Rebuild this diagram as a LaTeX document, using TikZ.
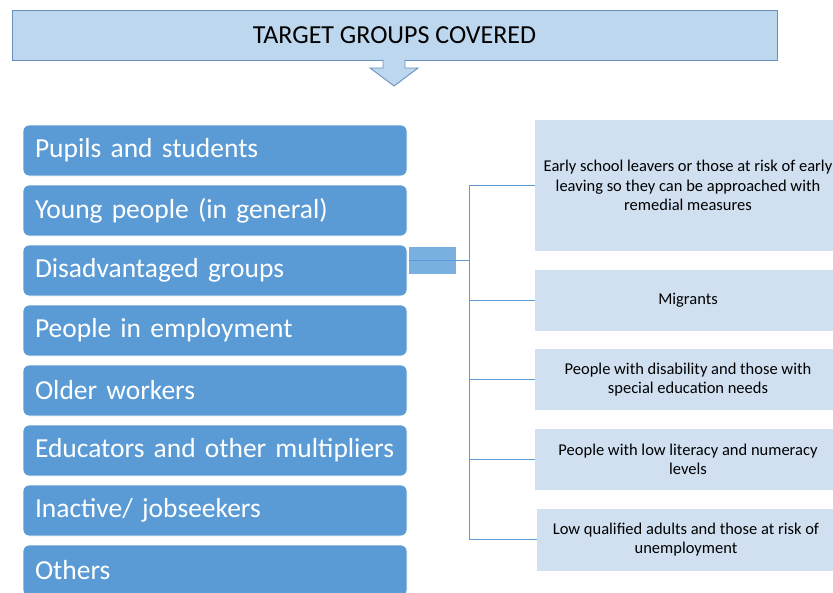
\documentclass[tikz,border=0pt]{standalone}
\usepackage{fontspec}
\setmainfont{Carlito}
\usepackage{tikz}
\usetikzlibrary{positioning}

\definecolor{titlefill}{HTML}{BDD7EE}
\definecolor{titleline}{HTML}{6A8FBF}
\definecolor{groupblue}{HTML}{5B9BD5}
\definecolor{subfill}{HTML}{D0E0F1}
\definecolor{tabblue}{HTML}{7AB0E0}

\tikzset{
	heading/.style={draw=titleline, line width=0.9pt, fill=titlefill, minimum width=765pt, minimum height=50pt, inner sep=0pt, font=\fontsize{26}{30}\selectfont},
	group/.style={draw=white, line width=0.8pt, fill=groupblue, rounded corners=6pt, text=white, minimum width=384pt, minimum height=51pt, text width=360pt, inner xsep=12pt, inner ysep=0pt, align=left, font=\fontsize{27.5}{30}\selectfont},
	sub/.style={fill=subfill, minimum width=306pt, inner sep=0pt, align=center, font=\fontsize{16.5}{19.5}\selectfont},
	conn/.style={draw=groupblue, line width=0.8pt},
}

\begin{document}
\begin{tikzpicture}[x=1pt,y=-1pt]
	\useasboundingbox (0,0) rectangle (833,592);
	\clip (0,0) rectangle (833,592);
	
	\node[heading] (title) at (394.5,35) {TARGET GROUPS COVERED};
	\draw[draw=titleline, line width=0.9pt, fill=titlefill] (383,59.5) -- (383,68) -- (370,68) -- (394,86) -- (418,68) -- (405,68) -- (405,59.5);
	
	% target groups
	\node[group] (pupils) at (215,150.5) {Pupils and students};
	\node[group] (young) [below = 8.2pt of pupils] {Young people (in general)};
	\node[group] (disadv) [below = 8.2pt of young] {Disadvantaged groups};
	\node[group] (employed) [below = 8.2pt of disadv] {People in employment};
	\node[group] (older) [below = 8.2pt of employed] {Older workers};
	\node[group] (educators) [below = 8.2pt of older] {Educators and other multipliers};
	\node[group] (inactive) [below = 8.2pt of educators] {Inactive/ jobseekers};
	\node[group] (others) [below = 8.2pt of inactive] {Others};
	
	% disadvantaged sub-groups
	\node[fill=tabblue, minimum width=47pt, minimum height=27pt, inner sep=0pt] (tab) at (432.5,260.5) {};
	\coordinate (spine) at (469,260.5);
	
	\node[sub, minimum height=131pt] (early) at (688,185.5) {Early school leavers or those at risk of early\\leaving so they can be approached with\\remedial measures};
	\node[sub, minimum height=61pt] (migrants) at (688,300.5) {Migrants};
	\node[sub, minimum height=61pt] (disability) at (688,379.5) {People with disability and those with\\special education needs};
	\node[sub, minimum height=61pt] (literacy) at (688,459.5) {People with low literacy and numeracy\\levels};
	\node[sub, minimum height=62pt, minimum width=298pt] (lowqual) at (686,539.5) {Low qualified adults and those at risk of\\unemployment};
	
	\draw[conn] (tab.west) -- (spine);
	\draw[conn] (spine |- early.west) -- (spine |- lowqual.west);
	\foreach \s in {early,migrants,disability,literacy,lowqual}
		\draw[conn] (spine |- \s.west) -- (\s.west);
\end{tikzpicture}
\end{document}
